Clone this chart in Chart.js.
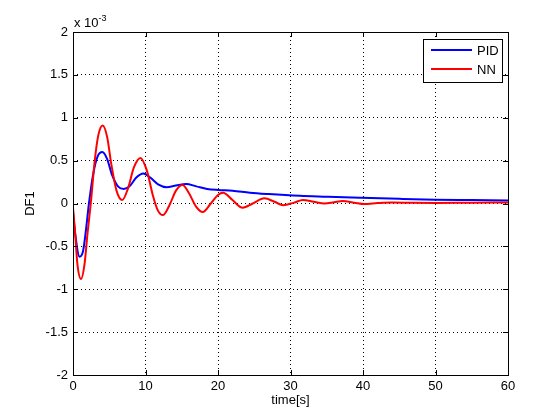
<!DOCTYPE html>
<html>
<head>
<meta charset="utf-8">
<script src="https://cdn.jsdelivr.net/npm/chart.js@4.4.1/dist/chart.umd.min.js"></script>
<style>
  html, body { margin: 0; padding: 0; background: #fff; }
  #wrap { width: 560px; height: 420px; }
</style>
</head>
<body>
<div id="wrap"><canvas id="mycanvas" width="560" height="420"></canvas></div>
<script>
// values in units of 1e-3
var pidTime = [0, 0.3, 0.9, 1.4, 1.8, 2.2, 2.8, 3.4, 4.05, 4.7, 5.4, 6.2, 7.0, 7.8, 8.7, 9.7, 10.7, 11.8, 12.9, 14.2, 15.6, 17.0, 18.5, 20, 22, 24.4, 27, 31.3, 35, 39.6, 45, 50, 55, 60];
var pidValue = [-0.1, -0.35, -0.62, -0.55, -0.3, 0, 0.35, 0.55, 0.60, 0.52, 0.33, 0.2, 0.17, 0.2, 0.3, 0.35, 0.3, 0.22, 0.19, 0.21, 0.228, 0.2, 0.17, 0.158, 0.15, 0.126, 0.11, 0.09, 0.08, 0.068, 0.055, 0.045, 0.04, 0.035];

var nnTime = [0, 0.3, 0.6, 1.1, 1.6, 2.0, 2.45, 3.0, 3.5, 4.1, 4.7, 5.3, 6.0, 6.8, 7.6, 8.4, 9.3, 10.2, 11.0, 11.7, 12.4, 13.3, 14.2, 15.1, 16.0, 17.0, 17.9, 19.0, 20.0, 20.7, 22.0, 23.4, 24.8, 26.4, 27.8, 29.0, 30.5, 31.7, 33.2, 34.7, 36.0, 37.2, 38.8, 40.2, 42, 44, 47, 50, 55, 60];
var nnValue = [-0.05, -0.35, -0.7, -0.88, -0.7, -0.35, 0, 0.5, 0.8, 0.91, 0.78, 0.45, 0.15, 0.04, 0.18, 0.42, 0.53, 0.38, 0.1, -0.08, -0.135, -0.02, 0.15, 0.216, 0.12, -0.04, -0.1, 0.0, 0.1, 0.126, 0.04, -0.05, 0.0, 0.06, 0.02, -0.02, 0.01, 0.04, 0.02, 0.0, 0.015, 0.03, 0.01, -0.006, 0.005, 0.012, 0.008, 0.006, 0.01, 0.012];

var xTicks = [0, 10, 20, 30, 40, 50, 60];
var yTicks = [-2, -1.5, -1, -0.5, 0, 0.5, 1, 1.5, 2];

function toPoints(t, v) {
    var pts = [];
    for (var i in t) {
        pts.push({x: t[i], y: v[i]});
    }
    return pts;
}

var fontFamily = "'Liberation Sans', Arial, sans-serif";

var boxPlugin = {
    id: 'matlabBox',
    afterDraw: function(chart) {
        var ctx = chart.ctx;
        var a = chart.chartArea;
        var xs = chart.scales.x, ys = chart.scales.y;
        ctx.save();
        ctx.strokeStyle = '#000';
        ctx.lineWidth = 1;
        ctx.setLineDash([]);
        ctx.strokeRect(Math.round(a.left) + 0.5, Math.round(a.top) + 0.5,
                       Math.round(a.right - a.left), Math.round(a.bottom - a.top));
        // inward tick marks
        ctx.beginPath();
        xTicks.forEach(function(v) {
            var px = Math.round(xs.getPixelForValue(v)) + 0.5;
            ctx.moveTo(px, a.bottom); ctx.lineTo(px, a.bottom - 5);
            ctx.moveTo(px, a.top); ctx.lineTo(px, a.top + 5);
        });
        yTicks.forEach(function(v) {
            var py = Math.round(ys.getPixelForValue(v)) + 0.5;
            ctx.moveTo(a.left, py); ctx.lineTo(a.left + 5, py);
            ctx.moveTo(a.right, py); ctx.lineTo(a.right - 5, py);
        });
        ctx.stroke();

        // exponent label
        ctx.fillStyle = '#000';
        ctx.textBaseline = 'alphabetic';
        ctx.textAlign = 'left';
        ctx.font = '13px ' + fontFamily;
        ctx.fillText('x 10', a.left + 1, 27);
        var w = ctx.measureText('x 10').width;
        ctx.font = '9px ' + fontFamily;
        ctx.fillText('-3', a.left + 1 + w, 21);

        // legend
        var lx = 423, ly = 39, lw = 79, lh = 43;
        ctx.fillStyle = '#fff';
        ctx.fillRect(lx, ly, lw, lh);
        ctx.strokeStyle = '#000';
        ctx.strokeRect(lx + 0.5, ly + 0.5, lw, lh);
        var rows = [50, 69];
        chart.data.datasets.forEach(function(ds, i) {
            ctx.strokeStyle = ds.borderColor;
            ctx.lineWidth = 2;
            ctx.beginPath();
            ctx.moveTo(431, rows[i]);
            ctx.lineTo(472, rows[i]);
            ctx.stroke();
            ctx.fillStyle = '#000';
            ctx.font = '13px ' + fontFamily;
            ctx.textBaseline = 'middle';
            ctx.fillText(ds.label, 477, rows[i] + 1);
        });
        ctx.restore();
    }
};

var ctx = document.getElementById('mycanvas');

var chartdata = {
    datasets: [
        {
            label: 'PID',
            data: toPoints(pidTime, pidValue),
            borderColor: '#0000ff',
            borderWidth: 2,
            pointRadius: 0,
            fill: false,
            cubicInterpolationMode: 'monotone',
            order: 1
        },
        {
            label: 'NN',
            data: toPoints(nnTime, nnValue),
            borderColor: '#ff0000',
            borderWidth: 2,
            pointRadius: 0,
            fill: false,
            cubicInterpolationMode: 'monotone',
            order: 0
        }
    ]
};

var LineGraph = new Chart(ctx, {
    type: 'line',
    data: chartdata,
    plugins: [boxPlugin],
    options: {
        responsive: false,
        animation: false,
        layout: { padding: { left: 0, top: 32, right: 52, bottom: 0 } },
        plugins: {
            legend: { display: false },
            tooltip: { enabled: false }
        },
        scales: {
            x: {
                type: 'linear',
                min: 0,
                max: 60,
                afterBuildTicks: function(scale) {
                    scale.ticks = xTicks.map(function(v) { return {value: v}; });
                },
                afterFit: function(scale) { scale.height = 45; },
                grid: { color: '#000', lineWidth: 1, drawTicks: false },
                border: { display: false, dash: [1, 3] },
                ticks: {
                    color: '#000',
                    padding: 4,
                    maxRotation: 0,
                    font: { family: fontFamily, size: 13 },
                    callback: function(v) { return String(v); }
                },
                title: {
                    display: true,
                    text: 'time[s]',
                    color: '#000',
                    padding: { top: 0, bottom: 12 },
                    font: { family: fontFamily, size: 13 }
                }
            },
            y: {
                min: -2,
                max: 2,
                afterBuildTicks: function(scale) {
                    scale.ticks = yTicks.map(function(v) { return {value: v}; });
                },
                afterFit: function(scale) { scale.width = 73; },
                grid: { color: '#000', lineWidth: 1, drawTicks: false },
                border: { display: false, dash: [1, 3] },
                ticks: {
                    color: '#000',
                    padding: 5,
                    font: { family: fontFamily, size: 13 },
                    callback: function(v) { return String(v); }
                },
                title: {
                    display: true,
                    text: 'DF1',
                    color: '#000',
                    padding: { top: 23, bottom: 0 },
                    font: { family: fontFamily, size: 13 }
                }
            }
        }
    }
});
</script>
</body>
</html>
